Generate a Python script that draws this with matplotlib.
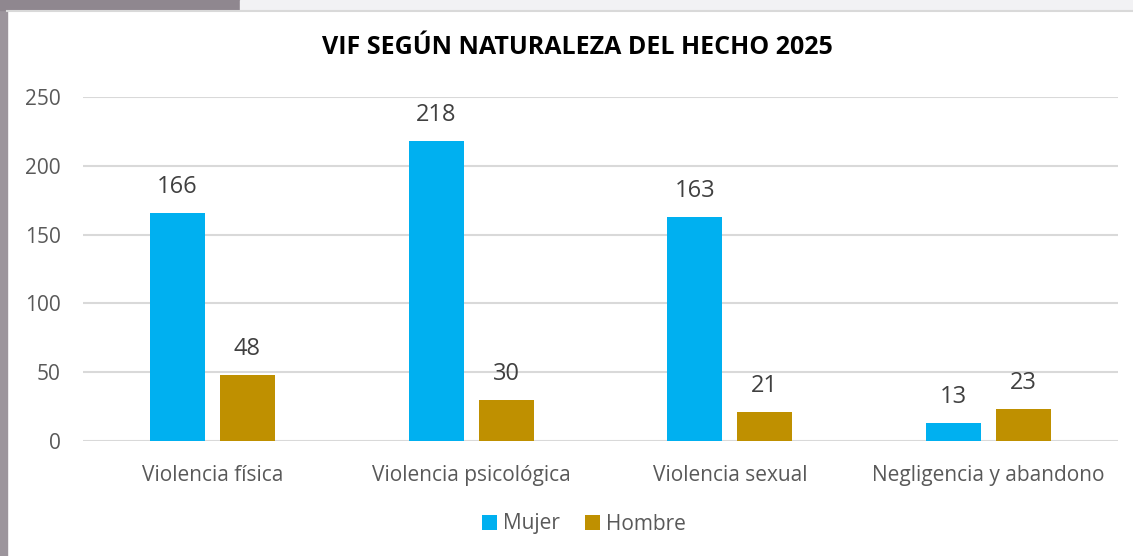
import numpy as np
import matplotlib.pyplot as plt
from matplotlib.patches import Rectangle

plt.rcParams['font.family'] = ['Open Sans', 'DejaVu Sans']

categorias = ['Violencia física', 'Violencia psicológica', 'Violencia sexual',
              'Negligencia y abandono']
mujer = [166, 218, 163, 13]
hombre = [48, 30, 21, 23]
series = ['Mujer', 'Hombre']
y_ticks = [0, 50, 100, 150, 200, 250]

c_mujer = '#00b0f0'
c_hombre = '#bf9000'
c_text = '#595959'

fig = plt.figure(figsize=(11.33, 5.56), dpi=100)

# marco gris del fondo
fig.patches.append(Rectangle((0, 0), 7 / 1133, 1, transform=fig.transFigure,
                             color='#9c959c', zorder=0))
fig.patches.append(Rectangle((0, 1 - 10 / 556), 240 / 1133, 10 / 556,
                             transform=fig.transFigure, color='#8f878f', zorder=0))
fig.patches.append(Rectangle((240 / 1133, 1 - 10 / 556), 1, 10 / 556,
                             transform=fig.transFigure, color='#f2f2f4', zorder=0))
fig.add_artist(plt.Line2D([7 / 1133, 1], [1 - 11 / 556, 1 - 11 / 556],
                          transform=fig.transFigure, color='#d9d9d9', lw=1.5))

ax = fig.add_axes([83 / 1133, 1 - 441 / 556, 1035 / 1133, 344 / 556])

x = np.arange(len(categorias))
w = 0.2126
off = 0.135
b1 = ax.bar(x - off, mujer, w, color=c_mujer, label=series[0], zorder=3)
b2 = ax.bar(x + off, hombre, w, color=c_hombre, label=series[1], zorder=3)

for bars, vals in ((b1, mujer), (b2, hombre)):
    for r, v in zip(bars, vals):
        ax.annotate(str(v), (r.get_x() + r.get_width() / 2, v),
                    xytext=(0, 10), textcoords='offset points',
                    ha='center', va='bottom', fontsize=17, color='#404040')

ax.set_xlim(-0.5, len(categorias) - 0.5)
ax.set_ylim(0, 250)
ax.set_yticks(y_ticks)
ax.set_xticks(x)
ax.set_xticklabels(categorias)
ax.grid(axis='y', color='#d9d9d9', lw=1.5, zorder=0)
for s in ax.spines.values():
    s.set_visible(False)
ax.tick_params(axis='both', length=0, labelsize=15, labelcolor=c_text)
ax.tick_params(axis='y', pad=16)
ax.tick_params(axis='x', pad=17)

fig.text(577 / 1133, 1 - 48 / 556, 'VIF SEGÚN NATURALEZA DEL HECHO 2025',
         ha='center', va='center', fontsize=18, fontweight='bold', color='black')

fig.legend(handles=[b1, b2], labels=series, loc='center',
           bbox_to_anchor=(584 / 1133, 1 - 524 / 556), ncol=2, frameon=False,
           fontsize=15, labelcolor=c_text, handlelength=0.7, handleheight=0.7,
           handletextpad=0.3, columnspacing=1.2)

fig.savefig('out.png', dpi=100)
